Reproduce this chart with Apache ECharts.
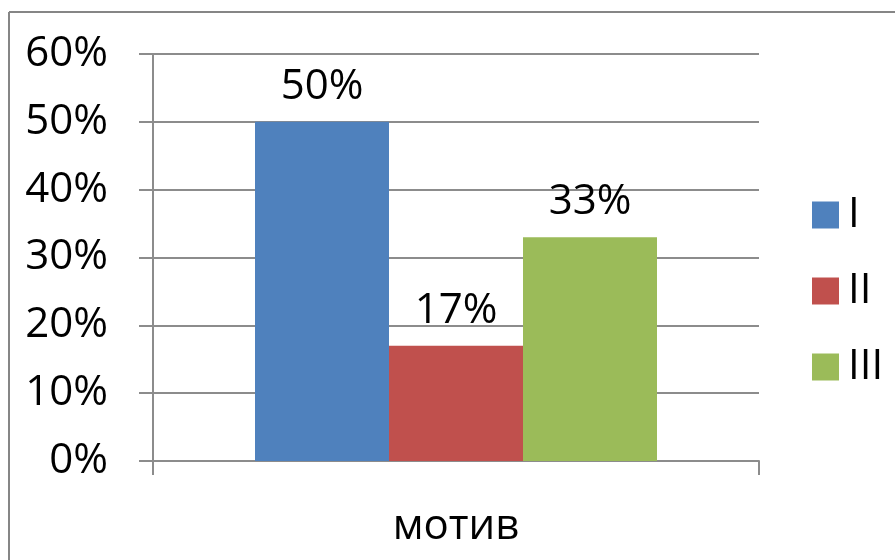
<!DOCTYPE html>
<html>
<head>
<meta charset="utf-8">
<script src="https://cdn.jsdelivr.net/npm/echarts@6/dist/echarts.min.js"></script>
<style>
  html, body { margin: 0; padding: 0; background: #fff; }
  #main { width: 895px; height: 560px; }
</style>
</head>
<body>
<div id="main"></div>
<script>
// данные диаграммы
const categories = ['мотив']
const seriesNames = ['I', 'II', 'III']
const seriesValues = [[0.5], [0.17], [0.33]]
const seriesColors = ['#4F81BD', '#C0504D', '#9BBB59']

const font = '"Open Sans", "Noto Sans", sans-serif'
const pct = v => Math.round(v * 100) + '%'

const myChart = echarts.init(document.getElementById('main'))

const option = {
  animation: false,
  textStyle: { fontFamily: font },
  graphic: [
    { type: 'line', shape: { x1: 9, y1: 12, x2: 9, y2: 560 }, style: { stroke: '#868686', lineWidth: 2 } },
    { type: 'line', shape: { x1: 9, y1: 12, x2: 895, y2: 12 }, style: { stroke: '#868686', lineWidth: 2 } },
  ],
  grid: {
    left: 153,
    right: 136,
    top: 54,
    bottom: 99,
  },
  legend: {
    orient: 'vertical',
    left: 807,
    top: 189,
    itemWidth: 27,
    itemHeight: 27,
    itemGap: 34,
    icon: 'rect',
    data: seriesNames,
    textStyle: { fontSize: 42, color: '#000', fontFamily: font, padding: [0, 0, 0, 4] },
  },
  xAxis: {
    type: 'category',
    data: categories,
    axisLine: { lineStyle: { color: '#8c8c8c', width: 2 } },
    axisTick: { show: true, length: 14, lineStyle: { color: '#8c8c8c', width: 2 } },
    axisLabel: { fontSize: 42, color: '#000', margin: 45, fontFamily: font },
  },
  yAxis: {
    type: 'value',
    min: 0,
    max: 0.6,
    interval: 0.1,
    axisLine: { show: true, lineStyle: { color: '#8c8c8c', width: 2 } },
    axisTick: { show: true, length: 14, lineStyle: { color: '#8c8c8c', width: 2 } },
    splitLine: { lineStyle: { color: '#8c8c8c', width: 2 } },
    axisLabel: { fontSize: 42, color: '#000', margin: 45, fontFamily: font, formatter: pct },
  },
  series: seriesNames.map((name, i) => ({
    name,
    type: 'bar',
    data: seriesValues[i],
    barWidth: 134,
    barGap: '0%',
    itemStyle: { color: seriesColors[i] },
    label: {
      show: true,
      position: 'top',
      distance: 14,
      fontSize: 42,
      color: '#000',
      fontFamily: font,
      formatter: p => pct(p.value),
    },
  })),
}

option && myChart.setOption(option)
</script>
</body>
</html>
